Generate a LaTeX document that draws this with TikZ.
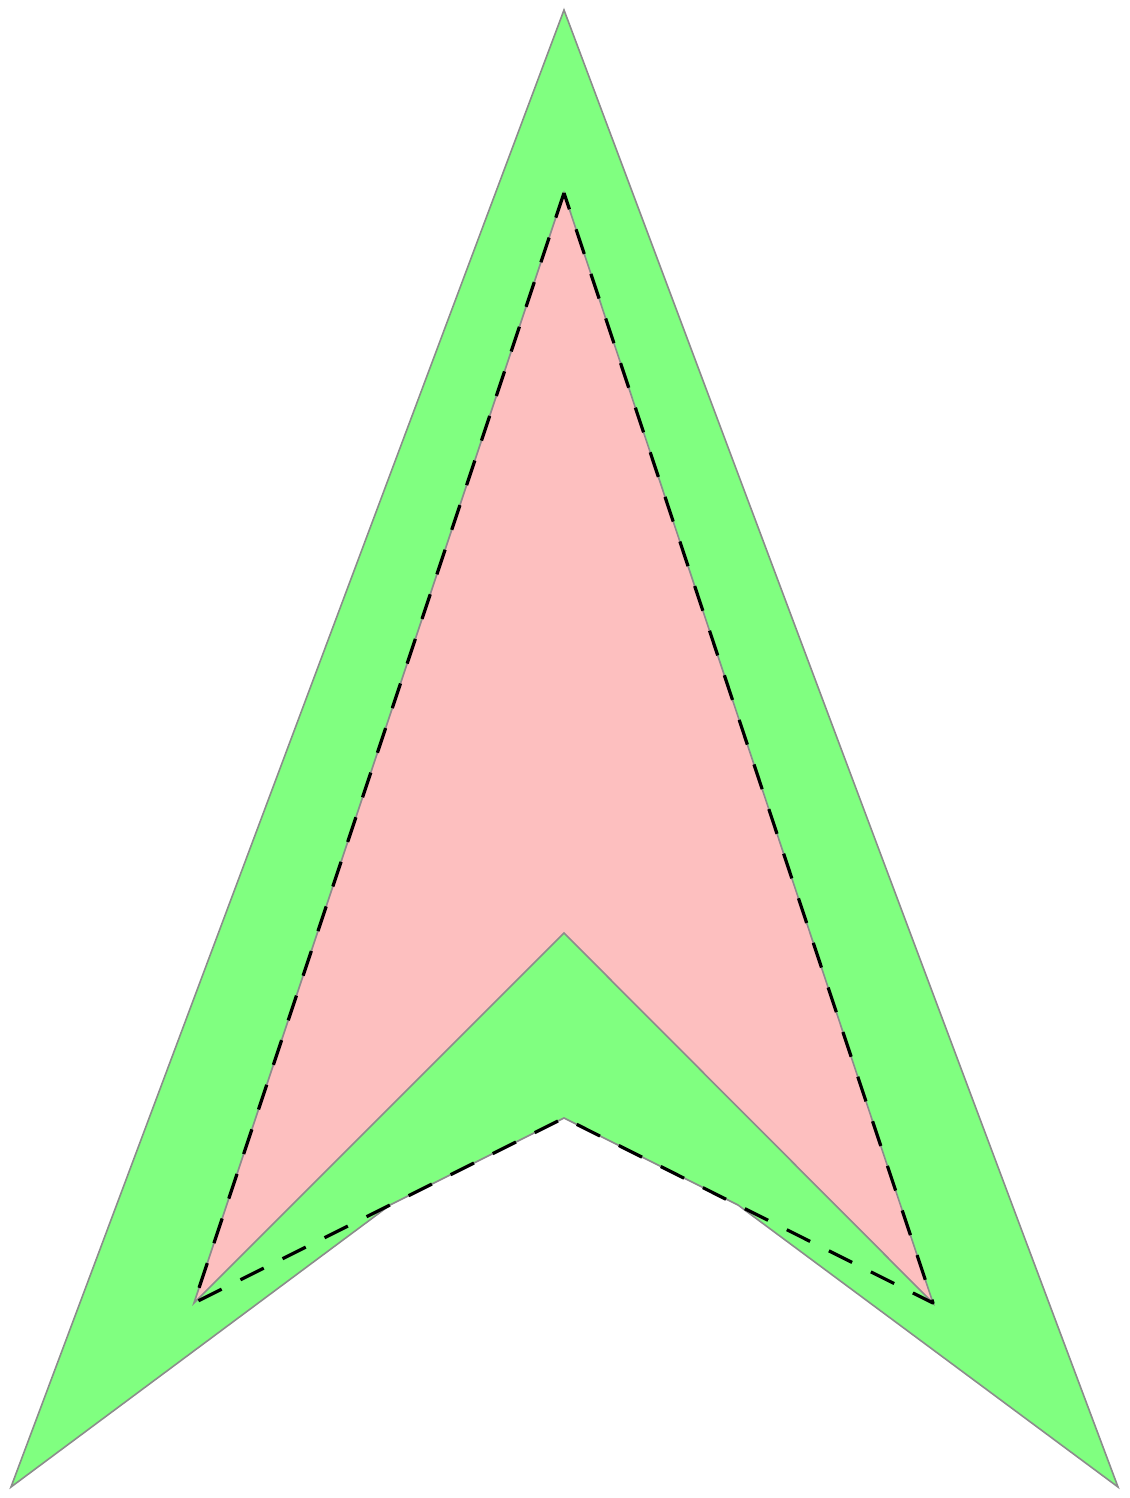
\documentclass[tikz,border=0pt]{standalone}
\begin{document}
\begin{tikzpicture}[x=1pt,y=-1pt,
  outline/.style={draw=black!45,line width=1.6pt,line join=miter},
  dashline/.style={draw=black,line width=3.2pt,dash pattern=on 26pt off 21pt,line join=round}]
\useasboundingbox (0,0) rectangle (1129,1498);
% outer green shape
\coordinate (T)  at (564,10);
\coordinate (BL) at (11,1487);
\coordinate (IL) at (390,1205);
\coordinate (N)  at (564,1118);
\coordinate (IR) at (738,1205);
\coordinate (BR) at (1118,1487);
% inner polygon
\coordinate (t)  at (564,193);
\coordinate (bl) at (194,1303);
\coordinate (n)  at (564,933);
\coordinate (br) at (933,1303);
\fill[fill={rgb,255:red,128;green,255;blue,128},outline] (T) -- (BL) -- (IL) -- (N) -- (IR) -- (BR) -- cycle;
\fill[fill={rgb,255:red,253;green,191;blue,191},outline] (t) -- (bl) -- (n) -- (br) -- cycle;
\draw[dashline] (t) -- (bl) -- (N) -- (br) -- cycle;
\end{tikzpicture}
\end{document}
